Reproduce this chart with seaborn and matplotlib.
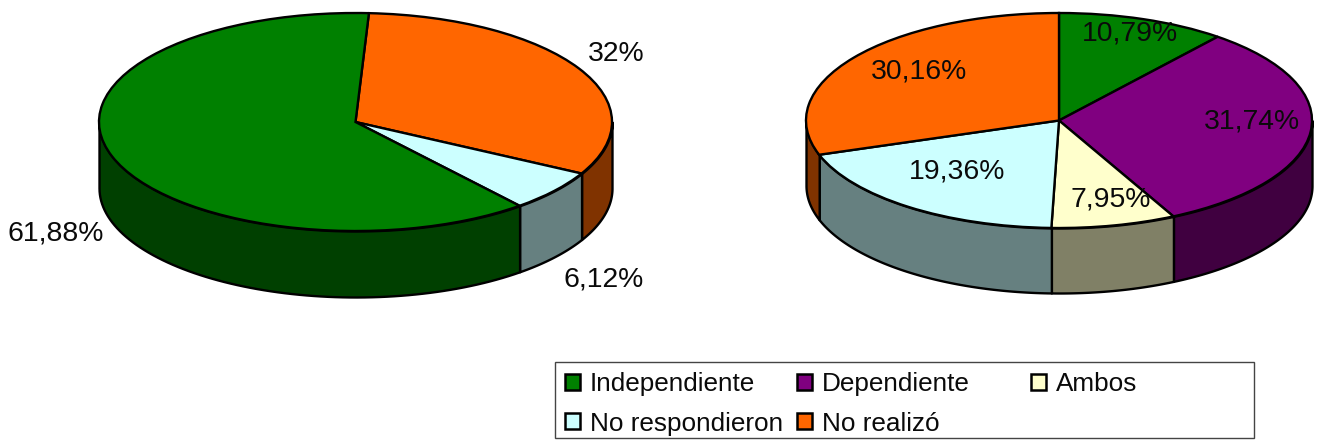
import numpy as np
import matplotlib
matplotlib.use('Agg')
import matplotlib.pyplot as plt
from matplotlib.patches import Patch, Rectangle
import seaborn as sns

sns.set_theme(style='white')
plt.rcParams['font.family'] = ['Liberation Sans', 'DejaVu Sans']

W, H = 1320, 440

# Data, clockwise from the first slice
left_labels = ['No realizó', 'No respondieron', 'Independiente']
left_values = [32, 6.12, 61.88]
left_texts = ['32%', '6,12%', '61,88%']

right_labels = ['Independiente', 'Dependiente', 'Ambos', 'No respondieron', 'No realizó']
right_values = [10.79, 31.74, 7.95, 19.36, 30.16]
right_texts = ['10,79%', '31,74%', '7,95%', '19,36%', '30,16%']

top_colors = {'Independiente': '#008000', 'Dependiente': '#800080', 'Ambos': '#FFFFCC',
              'No respondieron': '#CCFFFF', 'No realizó': '#FF6600'}
side_colors = {'Independiente': '#004000', 'Dependiente': '#400040', 'Ambos': '#808066',
               'No respondieron': '#668080', 'No realizó': '#803300'}

LW = 1.7


def pie3d(fig, labels, values, start, box, depth_px):
    # box is left, top, right, bottom of the top ellipse in pixels
    x0, y0, x1, y1 = box
    depth = depth_px / ((y1 - y0) / 2)
    ax = fig.add_axes([x0 / W, 1 - (y1 + depth_px) / H, (x1 - x0) / W, (y1 - y0 + depth_px) / H])

    # side walls, only the front half of the ellipse shows
    a1 = start
    for lab, val in zip(labels, values):
        a2 = a1 - val * 3.6
        lo, hi = max(a2, -180), min(a1, 0)
        if hi > lo:
            t = np.radians(np.linspace(lo, hi, 80))
            ax.fill_between(np.cos(t), np.sin(t), np.sin(t) - depth, color=side_colors[lab],
                            edgecolor='black', linewidth=LW, clip_on=False, zorder=1)
        a1 = a2

    wedges, _ = ax.pie(values, colors=[top_colors[l] for l in labels], startangle=start,
                       counterclock=False, radius=1, normalize=True,
                       wedgeprops={'edgecolor': 'black', 'linewidth': LW, 'clip_on': False, 'zorder': 2})
    ax.set_aspect('auto')
    ax.set_xlim(-1, 1)
    ax.set_ylim(-1 - depth, 1)
    ax.axis('off')
    return ax


def label(fig, x, y, s):
    fig.text(x / W, 1 - y / H, s, ha='center', va='center', fontsize=20.4, color='#0a0a0a')


fig = plt.figure(figsize=(W / 100, H / 100), dpi=100)
fig.patch.set_facecolor('white')

pie3d(fig, left_labels, left_values, 87, (99, 13, 612, 231), 66)
pie3d(fig, right_labels, right_values, 90, (806, 13, 1312, 228), 65)

for (x, y), s in zip([(616, 54), (604, 279), (56, 233)], left_texts):
    label(fig, x, y, s)
for (x, y), s in zip([(1130, 33), (1252, 121), (1111, 199), (957, 171), (919, 72)], right_texts):
    label(fig, x, y, s)

# legend frame, the columns in the original are not evenly spaced
fig.add_artist(Rectangle((555 / W, 1 - 438 / H), 699 / W, 76.5 / H, transform=fig.transFigure,
                         facecolor='white', edgecolor='#444444', linewidth=1, zorder=2))


def handle(name):
    return Patch(facecolor=top_colors[name], edgecolor='black', linewidth=1.8, label=name)


opts = dict(frameon=False, fontsize=18.8, handlelength=0.56, handleheight=0.56, handletextpad=0.38,
            labelspacing=0.6, borderpad=0, borderaxespad=0, labelcolor='#0a0a0a')
leg1 = fig.legend(handles=[handle(n) for n in ['Independiente', 'No respondieron', 'Dependiente', 'No realizó']],
                  ncol=2, columnspacing=0.55, loc='upper left', bbox_to_anchor=(565 / W, 1 - 372 / H), **opts)
leg2 = fig.legend(handles=[handle('Ambos')], loc='upper left', bbox_to_anchor=(1031 / W, 1 - 372 / H), **opts)
leg1.set_zorder(3)
leg2.set_zorder(3)

fig.savefig('out.png', dpi=100, facecolor='white')
